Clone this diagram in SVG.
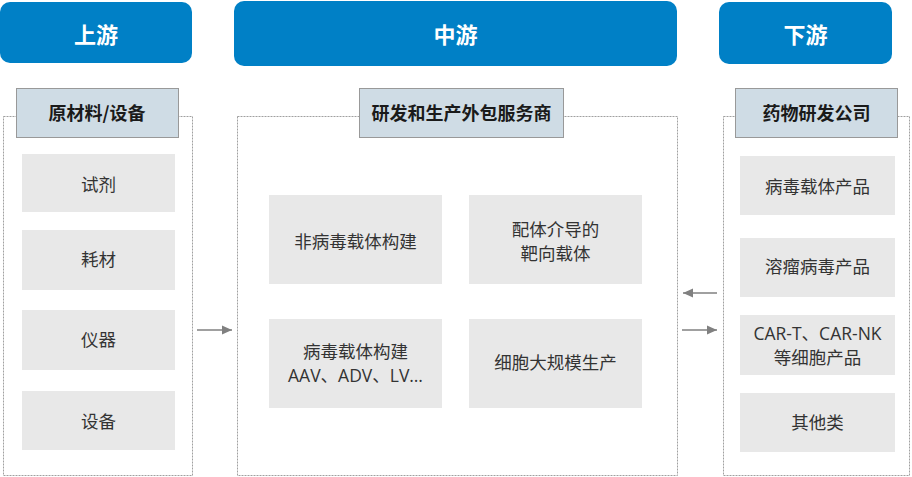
<svg xmlns="http://www.w3.org/2000/svg" width="912" height="477" viewBox="0 0 912 477">
<defs>
<marker id="ah" viewBox="0 0 10 10" refX="10" refY="5" markerWidth="10" markerHeight="10" markerUnits="userSpaceOnUse" orient="auto">
<path d="M0,0.5 L10,5 L0,9.5 Z" fill="#808080"/>
</marker>
<style>
.hdr{fill:#0080c6}
.hdrt{font-family:"Noto Sans CJK SC","Liberation Sans",sans-serif;font-size:22px;font-weight:bold;fill:#fff;text-anchor:middle}
.panel{fill:#fff;stroke:#a0a0a0;stroke-width:1;stroke-dasharray:2,1}
.lab{fill:#cfdce5;stroke:#999;stroke-width:1}
.labt{font-family:"Noto Sans CJK SC","Liberation Sans",sans-serif;font-size:18px;font-weight:bold;fill:#1a1a1a;text-anchor:middle}
.item{fill:#e8e8e8}
.it{font-family:"Open Sans","Noto Sans CJK SC",sans-serif;font-size:17.5px;fill:#333;text-anchor:middle}
.conn{stroke:#808080;stroke-width:1.5;fill:none}
</style>
</defs>
<g id="upstream">
<rect class="hdr" x="0" y="2" width="192" height="61" rx="10"/>
<text class="hdrt" x="96" y="43">上游</text>
<rect class="panel" x="3.5" y="116.5" width="189" height="359"/>
<rect class="lab" x="16.5" y="88.5" width="162" height="49"/>
<text class="labt" x="97" y="120">原材料/设备</text>
</g>
<g id="u-reagent"><rect class="item" x="22" y="154" width="153" height="58"/><text class="it" x="98.5" y="191">试剂</text></g>
<g id="u-consumable"><rect class="item" x="22" y="230" width="153" height="60"/><text class="it" x="98.5" y="266">耗材</text></g>
<g id="u-instrument"><rect class="item" x="22" y="310" width="153" height="60"/><text class="it" x="98.5" y="346">仪器</text></g>
<g id="u-equipment"><rect class="item" x="22" y="391" width="153" height="59"/><text class="it" x="98.5" y="428">设备</text></g>

<g id="midstream">
<rect class="hdr" x="234" y="1" width="443" height="65" rx="10"/>
<text class="hdrt" x="455.5" y="43">中游</text>
<rect class="panel" x="237.5" y="116.5" width="440" height="359"/>
<rect class="lab" x="359.5" y="88.5" width="204" height="49"/>
<text class="labt" x="461.5" y="120">研发和生产外包服务商</text>
</g>
<g id="m-nonviral"><rect class="item" x="269" y="195" width="173" height="89"/><text class="it" x="355.5" y="248">非病毒载体构建</text></g>
<g id="m-ligand"><rect class="item" x="469" y="195" width="173" height="89"/><text class="it" x="555.5" y="236">配体介导的</text><text class="it" x="555.5" y="260">靶向载体</text></g>
<g id="m-viral"><rect class="item" x="269" y="319" width="173" height="89"/><text class="it" x="355.5" y="358">病毒载体构建</text><text class="it" x="355.5" y="382">AAV、ADV、LV…</text></g>
<g id="m-cell"><rect class="item" x="469" y="319" width="173" height="89"/><text class="it" x="555.5" y="369">细胞大规模生产</text></g>

<g id="downstream">
<rect class="hdr" x="719" y="2" width="173" height="62" rx="10"/>
<text class="hdrt" x="805.5" y="43">下游</text>
<rect class="panel" x="723.5" y="116.5" width="186" height="359"/>
<rect class="lab" x="735.5" y="88.5" width="162" height="49"/>
<text class="labt" x="816.5" y="120">药物研发公司</text>
</g>
<g id="d-viral"><rect class="item" x="740" y="156" width="155" height="59"/><text class="it" x="817.5" y="193">病毒载体产品</text></g>
<g id="d-oncolytic"><rect class="item" x="740" y="238" width="155" height="59"/><text class="it" x="817.5" y="273">溶瘤病毒产品</text></g>
<g id="d-cell"><rect class="item" x="740" y="315" width="155" height="60"/><text class="it" x="817.5" y="340">CAR-T、CAR-NK</text><text class="it" x="817.5" y="364">等细胞产品</text></g>
<g id="d-other"><rect class="item" x="740" y="393" width="155" height="59"/><text class="it" x="817.5" y="429">其他类</text></g>

<g id="connectors">
<line class="conn" x1="197" y1="330" x2="232" y2="330" marker-end="url(#ah)"/>
<line class="conn" x1="717" y1="293" x2="683" y2="293" marker-end="url(#ah)"/>
<line class="conn" x1="682" y1="330" x2="717" y2="330" marker-end="url(#ah)"/>
</g>
</svg>
